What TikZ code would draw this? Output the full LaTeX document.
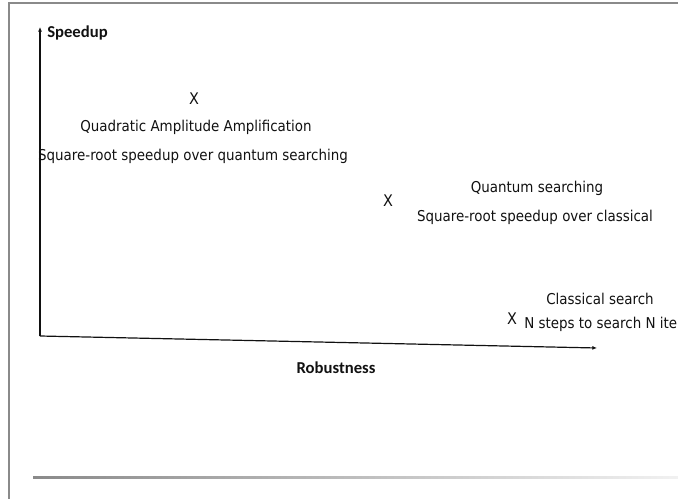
\documentclass[tikz,border=0pt]{standalone}
\usepackage{fontspec}
\setmainfont{DejaVu Sans Condensed}
\newfontfamily\axisfont{Carlito}
\usepackage{xcolor}
\definecolor{frame}{HTML}{8A8A8A}
\definecolor{ink}{HTML}{111111}
\usetikzlibrary{arrows.meta}

\begin{document}
\begin{tikzpicture}[x=0.75pt,y=-0.75pt,
  lbl/.style={ink,font=\fontsize{11.2}{13}\selectfont,inner sep=0pt},
  axislbl/.style={ink,font=\axisfont\bfseries\fontsize{12.5}{14}\selectfont,inner sep=0pt},
  xmark/.style={ink,font=\fontsize{12}{14}\selectfont,inner sep=0pt},
  axis/.style={ink,line width=0.9pt,-{Latex[length=3.5pt,width=3pt]}}]
  \useasboundingbox (0,0) rectangle (678,499);
  % slide frame
  \draw[frame,line width=1.1pt] (9,499) -- (9,3) -- (678,3);
  \shade[left color=frame,right color=frame!12] (33,476) rectangle (678,478);
  % axes
  \coordinate (origin) at (40,336);
  \coordinate (ytip) at (40,27);
  \coordinate (xtip) at (597,348);
  \draw[axis] (origin) -- (ytip);
  \draw[axis] (origin) -- (xtip);
  \node[axislbl,anchor=west] (speedup) at (47,33) {Speedup};
  \node[axislbl] (robust) at (336,368) {Robustness};
  % quadratic amplitude amplification
  \node[xmark] (qaa) at (194,99) {X};
  \node[lbl] (qaaname) at (196,127) {Quadratic Amplitude Amplification};
  \node[lbl] (qaanote) at (193,156) {Square-root speedup over quantum searching};
  % quantum searching
  \node[xmark] (qs) at (388,201) {X};
  \node[lbl] (qsname) at (537,188) {Quantum searching};
  \node[lbl] (qsnote) at (535,217) {Square-root speedup over classical};
  % classical search
  \node[xmark] (cs) at (512,319) {X};
  \node[lbl] (csname) at (600,299) {Classical search};
  \node[lbl,anchor=west] (csnote) at (524,324) {N steps to search N ite};
\end{tikzpicture}
\end{document}
